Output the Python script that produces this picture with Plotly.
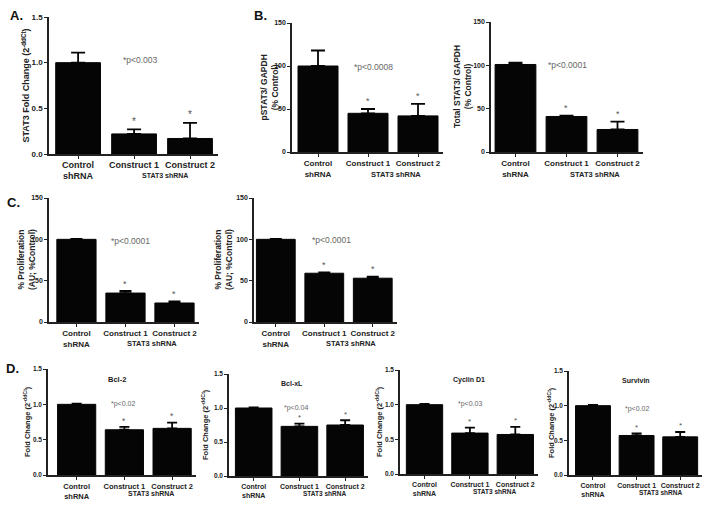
import plotly.graph_objects as go

# ---------------- data ----------------
categories = ["Control<br>shRNA", "Construct 1", "Construct 2"]
group_label = "STAT3 shRNA"

a_mean = [1.00, 0.22, 0.17]
a_err = [0.11, 0.05, 0.17]

b1_mean = [100, 45, 42]
b1_err = [18, 5, 14]
b2_mean = [101, 41, 26]
b2_err = [2, 1, 9]

c1_mean = [100, 35, 23]
c1_err = [0.5, 2.5, 2]
c2_mean = [100, 59, 53]
c2_err = [0.5, 1, 2]

bcl2_mean = [1.00, 0.64, 0.66]
bcl2_err = [0.01, 0.04, 0.08]
bclxl_mean = [1.00, 0.73, 0.75]
bclxl_err = [0.01, 0.04, 0.07]
cyclin_mean = [1.00, 0.59, 0.57]
cyclin_err = [0.01, 0.08, 0.11]
survivin_mean = [1.00, 0.57, 0.55]
survivin_err = [0.01, 0.03, 0.07]

a_ytitle = "STAT3 Fold Change (2<sup>-ddCt</sup>)"
b1_ytitle = "pSTAT3/ GAPDH<br>(% Control)"
b2_ytitle = "Total STAT3/ GAPDH<br>(% Control)"
c_ytitle = "% Proliferation<br>(AU; %Control)"
d_ytitle = "Fold Change (2<sup>-ddCt</sup>)"

pvals = ["*p<0.003", "*p<0.0008", "*p<0.0001", "*p<0.0001", "*p<0.0001",
         "*p<0.02", "*p<0.04", "*p<0.03", "*p<0.02"]
d_titles = ["Bcl-2", "Bcl-xL", "Cyclin D1", "Survivin"]

fold_ticks = [0, 0.5, 1.0, 1.5]
fold_ticktext = ["0.0", "0.5", "1.0", "1.5"]
pct_ticks = [0, 50, 100, 150]
pct_ticktext = ["0", "50", "100", "150"]

# ---------------- layout of panels (pixels) ----------------
W, H = 714, 505
FONT = "Arial, Liberation Sans, sans-serif"

panels = [
    dict(m=a_mean, e=a_err, yt=a_ytitle, tv=fold_ticks, tt=fold_ticktext, ymax=1.5,
         box=(49, 218, 17, 154), x0=-0.52, p=(0.54, 0.735), ytx=-24, fs=9, tfs=9, yfs=8, line=-15, glab=-21,
         title=None, cap=7),
    dict(m=b1_mean, e=b1_err, yt=b1_ytitle, tv=pct_ticks, tt=pct_ticktext, ymax=150,
         box=(292, 443, 23, 152), x0=-0.52, p=(0.54, 0.713), ytx=-23, fs=8, tfs=8.5, yfs=7, line=-16, glab=-22,
         title=None, cap=7),
    dict(m=b2_mean, e=b2_err, yt=b2_ytitle, tv=pct_ticks, tt=pct_ticktext, ymax=150,
         box=(491, 643, 22, 152), x0=-0.48, p=(0.50, 0.72), ytx=-29, fs=8, tfs=8.5, yfs=7, line=-16, glab=-22,
         title=None, cap=7),
    dict(m=c1_mean, e=c1_err, yt=c_ytitle, tv=pct_ticks, tt=pct_ticktext, ymax=150,
         box=(49, 199, 198, 322), x0=-0.56, p=(0.54, 0.65), ytx=-23, fs=8, tfs=8.5, yfs=7, line=-13, glab=-21,
         title=None, cap=6),
    dict(m=c2_mean, e=c2_err, yt=c_ytitle, tv=pct_ticks, tt=pct_ticktext, ymax=150,
         box=(254, 397, 198, 322), x0=-0.45, p=(0.545, 0.72), ytx=-31, fs=8, tfs=8.5, yfs=7, line=-14, glab=-21,
         title=None, cap=6),
    dict(m=bcl2_mean, e=bcl2_err, yt=d_ytitle, tv=fold_ticks, tt=fold_ticktext, ymax=1.5,
         box=(48, 196, 369, 475), x0=-0.6, p=(0.51, 0.73), ytx=-21, fs=7.5, tfs=7.5, yfs=6.5, line=-13, glab=-18,
         title=(0.465, 0.96), cap=5),
    dict(m=bclxl_mean, e=bclxl_err, yt=d_ytitle, tv=fold_ticks, tt=fold_ticktext, ymax=1.5,
         box=(229, 368, 374, 476), x0=-0.54, p=(0.485, 0.725), ytx=-24, fs=7, tfs=7.5, yfs=6.5, line=-12, glab=-17,
         title=(0.45, 0.96), cap=5),
    dict(m=cyclin_mean, e=cyclin_err, yt=d_ytitle, tv=fold_ticks, tt=fold_ticktext, ymax=1.5,
         box=(400, 538, 370, 474), x0=-0.54, p=(0.51, 0.73), ytx=-21, fs=7, tfs=7.5, yfs=6.5, line=-12, glab=-17,
         title=(0.50, 0.96), cap=5),
    dict(m=survivin_mean, e=survivin_err, yt=d_ytitle, tv=fold_ticks, tt=fold_ticktext, ymax=1.5,
         box=(569, 702, 371, 475), x0=-0.55, p=(0.51, 0.69), ytx=-18, fs=7, tfs=7.5, yfs=6.5, line=-12, glab=-17,
         title=(0.50, 0.96), cap=5),
]

fig = go.Figure()
layout = dict(width=W, height=H, margin=dict(l=0, r=0, t=0, b=0, pad=0, autoexpand=False),
              paper_bgcolor="white", plot_bgcolor="white", showlegend=False,
              font=dict(family=FONT, color="#222"))
annotations = []
shapes = []

xs = [0, 1, 2]
d_idx = 0
for i, p in enumerate(panels):
    n = "" if i == 0 else str(i + 1)
    xa, ya = "x" + n, "y" + n
    l, r, t, b = p["box"]
    fig.add_trace(go.Bar(
        x=xs, y=p["m"], xaxis=xa, yaxis=ya, width=0.8,
        marker=dict(color="#050505", line=dict(color="#050505", width=1)),
        error_y=dict(type="data", symmetric=False, array=p["e"], arrayminus=[0, 0, 0],
                     color="#050505", thickness=1.8, width=p["cap"]),
        hoverinfo="skip"))
    layout["xaxis" + n] = dict(
        domain=[l / W, r / W], anchor=ya, range=[p["x0"], 2.5], automargin=False,
        tickvals=xs, ticktext=categories, ticks="outside", ticklen=3, tickwidth=1.2,
        ticklabelstandoff=-2 if i == 0 else 0,
        tickcolor="#222", showline=True, linecolor="#222", linewidth=1.5,
        showgrid=False, zeroline=False, fixedrange=True,
        tickfont=dict(size=p["fs"], color="#222", family=FONT, weight="bold"))
    layout["yaxis" + n] = dict(
        domain=[1 - b / H, 1 - t / H], anchor=xa, range=[0, p["ymax"]], automargin=False,
        tickvals=p["tv"], ticktext=p["tt"], ticks="outside", ticklen=3, tickwidth=1.2,
        tickcolor="#222", showline=True, linecolor="#222", linewidth=1.5,
        showgrid=False, zeroline=False, fixedrange=True,
        tickfont=dict(size=p["yfs"], color="#222", family=FONT, weight="bold"))
    # y-axis title
    annotations.append(dict(
        text=p["yt"], xref=xa + " domain", yref=ya + " domain", x=0, y=0.5,
        xshift=p["ytx"], textangle=-90, showarrow=False, xanchor="center", yanchor="middle",
        font=dict(size=p["tfs"], color="#222", family=FONT, weight="bold")))
    # significance stars
    for j in (1, 2):
        top = p["m"][j] + p["e"][j]
        annotations.append(dict(
            text="*", xref=xa, yref=ya, x=xs[j], y=top + 0.06 * p["ymax"],
            showarrow=False, yanchor="middle",
            font=dict(size=p["fs"] + 1, color="#555", family=FONT)))
    # p-value text
    annotations.append(dict(
        text=pvals[i], xref=xa + " domain", yref=ya + " domain",
        x=p["p"][0], y=p["p"][1], showarrow=False,
        font=dict(size=8.5 if p["title"] is None else 7, color="#666", family=FONT)))
    # group underline and label
    shapes.append(dict(type="line", xref=xa, yref=ya, x0=0.58, x1=2.5,
                       ysizemode="pixel", yanchor=0, y0=p["line"], y1=p["line"],
                       line=dict(color="#999", width=1)))
    annotations.append(dict(
        text=group_label, xref=xa, yref=ya, x=1.55, y=0, yshift=p["glab"],
        showarrow=False, yanchor="middle",
        font=dict(size=7 if i == 0 else p["fs"] - 0.5, color="#222", family=FONT, weight="bold")))
    if p["title"] is not None:
        annotations.append(dict(
            text=d_titles[d_idx], xref=xa + " domain", yref=ya + " domain",
            x=p["title"][0], y=p["title"][1], showarrow=False,
            font=dict(size=p["fs"], color="#222", family=FONT, weight="bold")))
        d_idx += 1

# panel letters
for letter, (px, py) in [("A.", (16, 15)), ("B.", (260, 15)), ("C.", (13, 202)), ("D.", (12, 368))]:
    annotations.append(dict(text=letter, xref="paper", yref="paper", x=px / W, y=1 - py / H,
                            showarrow=False, xanchor="center", yanchor="middle",
                            font=dict(size=13, color="#111", family=FONT, weight="bold")))

layout["annotations"] = annotations
layout["shapes"] = shapes
fig.update_layout(**layout)
fig.write_html("out.html", config={"displayModeBar": False},
               post_script="document.body.style.margin='0';document.body.style.overflow='hidden';")
